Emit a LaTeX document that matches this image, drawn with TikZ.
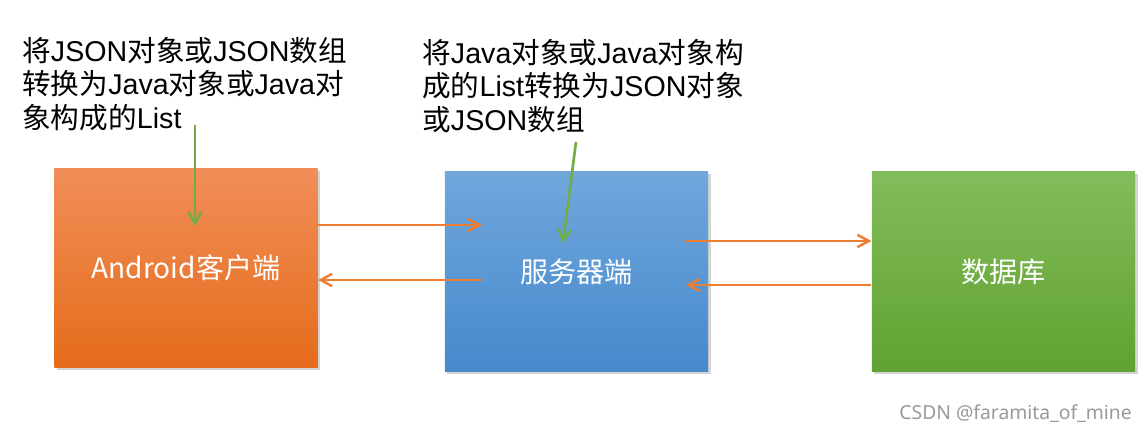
\documentclass[tikz,border=0pt]{standalone}
\usepackage{fontspec}
\setmainfont{Liberation Sans}
\newfontfamily\zhfont{Noto Sans CJK SC}
\newfontfamily\markfont{Noto Sans}
\newcommand\zh[1]{{\zhfont #1}}
\usetikzlibrary{arrows.meta,shadows}

\definecolor{clienttop}{HTML}{F18E58}
\definecolor{clientbot}{HTML}{E56C1B}
\definecolor{servertop}{HTML}{70A7DD}
\definecolor{serverbot}{HTML}{4689CC}
\definecolor{dbtop}{HTML}{83BC5B}
\definecolor{dbbot}{HTML}{60A231}
\definecolor{flowc}{HTML}{ED7D31}
\definecolor{notec}{HTML}{70AD47}

\tikzset{
  box/.style={inner sep=0pt,minimum width=5.27cm,minimum height=3.99cm,
    text=white,font=\zhfont\fontsize{16pt}{19pt}\selectfont,
    drop shadow={shadow xshift=1.5pt,shadow yshift=-1.5pt,opacity=0.35}},
  remark/.style={inner sep=0pt,anchor=north west,align=left,
    font=\fontsize{16.3pt}{19pt}\selectfont},
  flow/.style={draw=flowc,line width=1.4pt,-{Straight Barb[length=6.5pt,width=7pt]}},
  hint/.style={draw=notec,line width=1.5pt,-{Straight Barb[length=6.5pt,width=7.5pt]}}
}

\begin{document}
\begin{tikzpicture}[x=0.02cm,y=-0.02cm]
\useasboundingbox (0,0) rectangle (1147,434);

% boxes
\node[box,top color=clienttop,bottom color=clientbot] (client) at (186,268) {Android客户端};
\node[box,top color=servertop,bottom color=serverbot] (server) at (576.5,271.5) {服务器端};
\node[box,top color=dbtop,bottom color=dbbot] (db) at (1003.5,271.5) {数据库};

% remarks
\node[remark] (tojava) at (22,37) {\zh{将}JSON\zh{对象或}JSON\zh{数组}\\
  \zh{转换为}Java\zh{对象或}Java\zh{对}\\
  \zh{象构成的}List};
\node[remark] (tojson) at (422,39) {\zh{将}Java\zh{对象或}Java\zh{对象构}\\
  \zh{成的}List\zh{转换为}JSON\zh{对象}\\
  \zh{或}JSON\zh{数组}};

% orange flows
\coordinate (c2s) at (482,225);
\draw[flow] (client.east |- c2s) -- (c2s);
\coordinate (s2c) at (482,280);
\draw[flow] (s2c) -- (client.east |- s2c);
\coordinate (s2d) at (686,241);
\draw[flow] (s2d) -- (db.west |- s2d);
\coordinate (d2s) at (686,285);
\draw[flow] (db.west |- d2s) -- (d2s);

% green hints
\coordinate (h1a) at (195,125);
\coordinate (h1b) at (195,226);
\draw[hint] (h1a) -- (h1b);
\coordinate (h2a) at (576,142);
\coordinate (h2b) at (563,243);
\draw[hint] (h2a) -- (h2b);

\node[anchor=base east,inner sep=0pt,text=black!40,font=\markfont\fontsize{11pt}{13pt}\selectfont]
  (mark) at (1132,419) {CSDN @faramita\_of\_mine};
\end{tikzpicture}
\end{document}
